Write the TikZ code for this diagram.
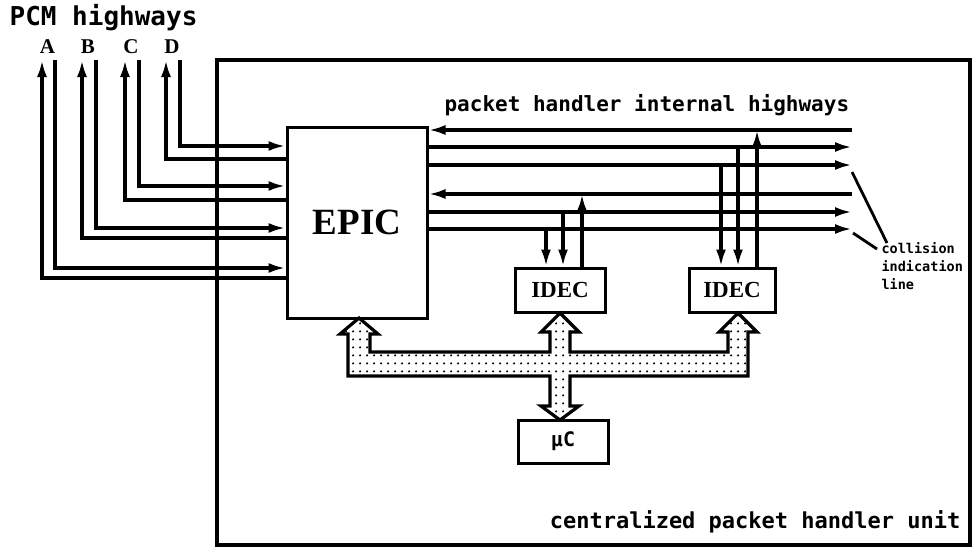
\documentclass[tikz,border=0pt]{standalone}
\usepackage{fontspec}
\setmonofont{DejaVu Sans Mono}
\newfontfamily\chipfont{Liberation Serif}
\usepackage{tikz}
\usetikzlibrary{positioning}
\usetikzlibrary{calc}
\usetikzlibrary{arrows.meta}
\usetikzlibrary{patterns.meta}
\tikzdeclarepattern{
  name=busdots,
  type=uncolored,
  bottom left={(0pt,0pt)},
  top right={(7pt,8pt)},
  tile size={(7pt,8pt)},
  code={\fill (3.5pt,4pt) circle (1.3pt);}
}
\tikzset{every picture/.style={line width=3.2pt},
  chip/.style={draw,line width=3pt,inner sep=0pt,font=\chipfont\bfseries\fontsize{23}{24}\selectfont},
  plot/.style={inner sep=0pt,font=\ttfamily\bfseries\fontsize{#1}{#1}\selectfont},
  bus/.style={draw,line width=3.2pt,pattern=busdots,pattern color=black}}

\begin{document}
\begin{tikzpicture}[x=1pt,y=-1pt,>={Latex[length=17pt,width=10pt]}]
\useasboundingbox (0,0) rectangle (974,550);
\draw[line width=4.5pt] (217,60) rectangle (970,545);
\node (epic) at (357,222.5) [chip, minimum width=140pt, minimum height=191pt, font=\chipfont\bfseries\fontsize{37}{40}\selectfont] {EPIC};
\node (idecA) at (560,290) [chip, minimum width=90pt, minimum height=44pt] {IDEC};
\node (idecB) at (732,290) [chip, minimum width=86pt, minimum height=44pt] {IDEC};
\node (uc) at (563,441.5) [chip, minimum width=90pt, minimum height=43pt, font=\ttfamily\bfseries\fontsize{20}{22}\selectfont] {µC};
% PCM highways
\node (pcm) at (8,18) [plot=26, anchor=west] {PCM highways};
\foreach \n/\xin/\xout/\yin/\yout in {A/55/42/268/278,B/96/82/228/238,C/139/125/186/200,D/180/166/146/159} {
\coordinate (in\n) at (\xin,60);
\coordinate (out\n) at (\xout,60);
\draw[->] (in\n) |- (epic.west |- 0,\yin);
\draw[->] (epic.west |- 0,\yout) -| (out\n);
\node (lbl\n) at ($(out\n)!0.5!(in\n)+(-1,-13)$) [inner sep=0pt, font=\chipfont\bfseries\fontsize{21}{22}\selectfont] {\n};
}
% internal highways
\node (phi) at (443,105) [plot=21, anchor=west] {packet handler internal highways};
\foreach \i/\y in {1/130,2/147,3/165,4/194,5/212,6/229} {
\coordinate (h\i w) at (epic.east |- 0,\y);
\coordinate (h\i e) at (852,\y);
}
\foreach \i in {1,4} \draw[<-] (h\i w) -- (h\i e);
\foreach \i in {2,3,5,6} \draw[->] (h\i w) -- (h\i e);
\draw[->] (h6e -| 546,0) -- (idecA.north -| 546,0);
\draw[->] (h5e -| 563,0) -- (idecA.north -| 563,0);
\draw[->] (idecA.north -| 582,0) -- (h4e -| 582,0);
\draw[->] (h3e -| 721,0) -- (idecB.north -| 721,0);
\draw[->] (h2e -| 738,0) -- (idecB.north -| 738,0);
\draw[->] (idecB.north -| 757,0) -- (h1e -| 757,0);
% collision indication line
\node (coll) at (880,241) [plot=13.5, anchor=north west, align=left, font=\ttfamily\bfseries\fontsize{13.5}{18}\selectfont] {collision\\indication\\line};
\draw[line width=2.8pt] ($(h3e)+(0,7)$) -- ($(coll.north west)+(7,2)$);
\draw[line width=2.8pt] ($(h6e)+(1,4)$) -- ($(coll.north west)+(-3,8)$);
% bus
\draw[bus] (348,376) -- (348,334) -- (340,334) -- (359,318) -- (378,334) -- (370,334) -- (370,352)
  -- (550,352) -- (550,332) -- (541,332) -- (560,313) -- (579,332) -- (570,332) -- (570,352)
  -- (728,352) -- (728,332) -- (719,332) -- (738,313) -- (757,332) -- (748,332) -- (748,376)
  -- (570,376) -- (570,406) -- (579,406) -- (560,420) -- (541,406) -- (550,406) -- (550,376) -- cycle;
\node (unit) at (962,522) [plot=22, anchor=east] {centralized packet handler unit};
\end{tikzpicture}
\end{document}
